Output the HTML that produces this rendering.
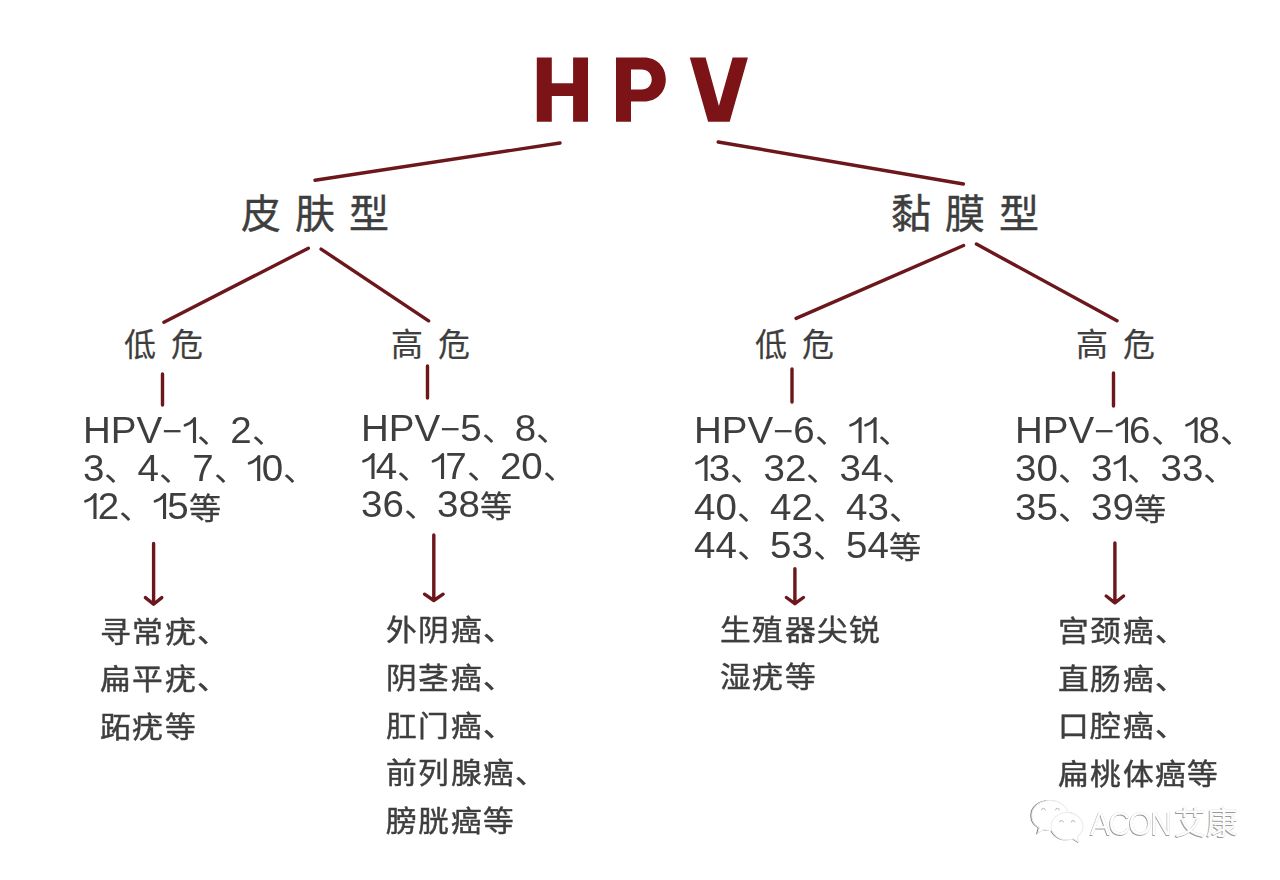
<!DOCTYPE html>
<html lang="zh-CN">
<head>
<meta charset="utf-8">
<style>
html,body{margin:0;padding:0;background:#fff;}
body{width:1280px;height:880px;position:relative;overflow:hidden;font-family:"Liberation Sans",sans-serif;color:#3e3e3e;}
.a{position:absolute;white-space:nowrap;}
.t{font-size:93px;font-weight:bold;color:#7a1518;line-height:100px;}
.c{font-size:31px;line-height:0;}
.m{font-size:32px;line-height:0;position:relative;top:-1px;}
.d{font-size:30px;line-height:0;-webkit-text-stroke:0.3px #3e3e3e;}
.o{font-size:0;line-height:0;color:transparent;}
.one{position:static;display:inline;vertical-align:baseline;overflow:visible;fill:none;stroke:#3e3e3e;}
.h2{font-size:40px;letter-spacing:14px;line-height:50px;-webkit-text-stroke:0.4px #3e3e3e;}
.h3{font-size:32px;letter-spacing:14.5px;line-height:40px;-webkit-text-stroke:0.2px #3e3e3e;}
.num{font-size:36px;line-height:38.4px;transform:scaleX(1.07);transform-origin:0 0;}
.dis{font-size:29px;letter-spacing:1.5px;line-height:47.7px;-webkit-text-stroke:0.45px #3e3e3e;transform:scaleX(1.06);transform-origin:0 0;}
svg{position:absolute;left:0;top:0;}
</style>
</head>
<body>
<svg width="1280" height="880" viewBox="0 0 1280 880">
<g fill="#7c1417">
<path d="M536.8,57.6H551.8V83.2H573.1V57.6H588V121.8H573.1V95.9H551.8V121.8H536.8Z"/>
<path fill-rule="evenodd" d="M616,57.5H644C656.5,57.5 665.8,66.5 665.8,79.4C665.8,92.3 656.5,101.4 644,101.4H631V121.8H616ZM631,69.5H641.5C647.5,69.5 651.7,73.5 651.7,79.5C651.7,85.5 647.5,89.5 641.5,89.5H631Z"/>
<path d="M689.8,57.5H705.6L718.9,106.1L732.6,57.5H747.9L729.7,121.8H708.1Z"/>
</g>
<g stroke="#6b171b" stroke-width="3.4" stroke-linecap="round" stroke-linejoin="round" fill="none">
<line x1="315" y1="180.2" x2="560" y2="143"/>
<line x1="718.2" y1="142" x2="963.4" y2="184"/>
<line x1="163.9" y1="322.2" x2="308.4" y2="248.2"/>
<line x1="321.1" y1="249.1" x2="428.6" y2="320.8"/>
<line x1="796.1" y1="318.4" x2="963.6" y2="245.5"/>
<line x1="976.4" y1="244.1" x2="1117" y2="320.7"/>
<line x1="162.5" y1="374" x2="162.5" y2="405"/>
<line x1="427.5" y1="366" x2="427.5" y2="398"/>
<line x1="792" y1="369" x2="792" y2="402"/>
<line x1="1113.5" y1="373" x2="1113.5" y2="406"/>
<path d="M153.6,543.5V604.2M145.4,597.6L153.6,604.2L161.8,597.6"/>
<path d="M433.8,535V600.5M424.5,594.2L433.8,600.5L443.1,594.2"/>
<path d="M794.9,568.8V603.7M786.4,597.5L794.9,603.7L803.4,597.5"/>
<path d="M1114.9,543V602.8M1106.2,596L1114.9,602.8L1123.6,596"/>
</g>
</svg>
<div id="pifu" class="a h2" style="left:240.8px;top:188.5px;">皮肤型</div>
<div id="nianmo" class="a h2" style="left:890.5px;top:189px;">黏膜型</div>
<div id="dw1" class="a h3" style="left:124px;top:325.3px;">低危</div>
<div id="gw1" class="a h3" style="left:391.2px;top:325.3px;">高危</div>
<div id="dw2" class="a h3" style="left:755.1px;top:325.3px;">低危</div>
<div id="gw2" class="a h3" style="left:1076.3px;top:325.3px;">高危</div>

<div id="n1" class="a num" style="left:83.4px;top:411.6px;">HPV<span class="m">−</span><span class="o">1</span><svg class="one" width="13.9" height="26" viewBox="0 0 13.9 26"><path d="M11.2,0.8V26" stroke-width="2.9"/><path d="M11.4,1.4C9.1,4.6 6.1,6.9 2.3,8.3" stroke-width="2.6" stroke-linecap="round"/></svg><span class="c">、</span>2<span class="c">、</span><br>3<span class="c">、</span>4<span class="c">、</span>7<span class="c">、</span><span class="o">1</span><svg class="one" width="13.9" height="26" viewBox="0 0 13.9 26"><path d="M11.2,0.8V26" stroke-width="2.9"/><path d="M11.4,1.4C9.1,4.6 6.1,6.9 2.3,8.3" stroke-width="2.6" stroke-linecap="round"/></svg>0<span class="c">、</span><br><span class="o">1</span><svg class="one" width="13.9" height="26" viewBox="0 0 13.9 26"><path d="M11.2,0.8V26" stroke-width="2.9"/><path d="M11.4,1.4C9.1,4.6 6.1,6.9 2.3,8.3" stroke-width="2.6" stroke-linecap="round"/></svg>2<span class="c">、</span><span class="o">1</span><svg class="one" width="13.9" height="26" viewBox="0 0 13.9 26"><path d="M11.2,0.8V26" stroke-width="2.9"/><path d="M11.4,1.4C9.1,4.6 6.1,6.9 2.3,8.3" stroke-width="2.6" stroke-linecap="round"/></svg>5<span class="d">等</span></div>
<div id="n2" class="a num" style="left:361.3px;top:409.6px;">HPV<span class="m">−</span>5<span class="c">、</span>8<span class="c">、</span><br><span class="o">1</span><svg class="one" width="13.9" height="26" viewBox="0 0 13.9 26"><path d="M11.2,0.8V26" stroke-width="2.9"/><path d="M11.4,1.4C9.1,4.6 6.1,6.9 2.3,8.3" stroke-width="2.6" stroke-linecap="round"/></svg>4<span class="c">、</span><span class="o">1</span><svg class="one" width="13.9" height="26" viewBox="0 0 13.9 26"><path d="M11.2,0.8V26" stroke-width="2.9"/><path d="M11.4,1.4C9.1,4.6 6.1,6.9 2.3,8.3" stroke-width="2.6" stroke-linecap="round"/></svg>7<span class="c">、</span>20<span class="c">、</span><br>36<span class="c">、</span>38<span class="d">等</span></div>
<div id="n3" class="a num" style="left:693.5px;top:412px;">HPV<span class="m">−</span>6<span class="c">、</span><span class="o">1</span><svg class="one" width="13.9" height="26" viewBox="0 0 13.9 26"><path d="M11.2,0.8V26" stroke-width="2.9"/><path d="M11.4,1.4C9.1,4.6 6.1,6.9 2.3,8.3" stroke-width="2.6" stroke-linecap="round"/></svg><span class="o">1</span><svg class="one" width="13.9" height="26" viewBox="0 0 13.9 26"><path d="M11.2,0.8V26" stroke-width="2.9"/><path d="M11.4,1.4C9.1,4.6 6.1,6.9 2.3,8.3" stroke-width="2.6" stroke-linecap="round"/></svg><span class="c">、</span><br><span class="o">1</span><svg class="one" width="13.9" height="26" viewBox="0 0 13.9 26"><path d="M11.2,0.8V26" stroke-width="2.9"/><path d="M11.4,1.4C9.1,4.6 6.1,6.9 2.3,8.3" stroke-width="2.6" stroke-linecap="round"/></svg>3<span class="c">、</span>32<span class="c">、</span>34<span class="c">、</span><br>40<span class="c">、</span>42<span class="c">、</span>43<span class="c">、</span><br>44<span class="c">、</span>53<span class="c">、</span>54<span class="d">等</span></div>
<div id="n4" class="a num" style="left:1014.5px;top:412px;">HPV<span class="m">−</span><span class="o">1</span><svg class="one" width="13.9" height="26" viewBox="0 0 13.9 26"><path d="M11.2,0.8V26" stroke-width="2.9"/><path d="M11.4,1.4C9.1,4.6 6.1,6.9 2.3,8.3" stroke-width="2.6" stroke-linecap="round"/></svg>6<span class="c">、</span><span class="o">1</span><svg class="one" width="13.9" height="26" viewBox="0 0 13.9 26"><path d="M11.2,0.8V26" stroke-width="2.9"/><path d="M11.4,1.4C9.1,4.6 6.1,6.9 2.3,8.3" stroke-width="2.6" stroke-linecap="round"/></svg>8<span class="c">、</span><br>30<span class="c">、</span>3<span class="o">1</span><svg class="one" width="13.9" height="26" viewBox="0 0 13.9 26"><path d="M11.2,0.8V26" stroke-width="2.9"/><path d="M11.4,1.4C9.1,4.6 6.1,6.9 2.3,8.3" stroke-width="2.6" stroke-linecap="round"/></svg><span class="c">、</span>33<span class="c">、</span><br>35<span class="c">、</span>39<span class="d">等</span></div>

<div id="d1" class="a dis" style="left:99.6px;top:609.5px;">寻常疣、<br>扁平疣、<br>跖疣等</div>
<div id="d2" class="a dis" style="left:385.6px;top:608.2px;">外阴癌、<br>阴茎癌、<br>肛门癌、<br>前列腺癌、<br>膀胱癌等</div>
<div id="d3" class="a dis" style="left:720px;top:607.5px;">生殖器尖锐<br>湿疣等</div>
<div id="d4" class="a dis" style="left:1057.6px;top:609px;">宫颈癌、<br>直肠癌、<br>口腔癌、<br>扁桃体癌等</div>
<svg width="1280" height="880" viewBox="0 0 1280 880" style="position:absolute;left:0;top:0">
<g fill="#fff" stroke="#ececec" stroke-width="1.1" style="filter:drop-shadow(-0.9px 0.9px 0.4px rgba(0,0,0,0.5))">
<path d="M1050,800.5C1060.5,800.5 1068.5,807.5 1068.5,816C1068.5,824 1060.5,830.5 1050,830.5C1047.5,830.5 1045.5,830 1043.5,829.5L1037.8,833.5L1039.3,827.5C1034.3,825 1031.8,820.5 1031.8,815.5C1031.8,807.5 1039.5,800.5 1050,800.5Z"/>
<path d="M1067,812.5C1076,812.5 1083,819 1083,826.5C1083,830.5 1081,834 1077.5,836.5L1078.3,842L1073.5,838.8C1071.5,839.5 1069.3,839.8 1067,839.8C1058,839.8 1051.2,833.5 1051.2,826.2C1051.2,819 1058,812.5 1067,812.5Z"/>
</g>
<g fill="none" stroke="#b8b8b8" stroke-width="1">
<path d="M1041.5,810.3A1.9,1.9 0 0 1 1045.3,810.3"/><path d="M1055.5,810.3A1.9,1.9 0 0 1 1059.3,810.3"/>
<path d="M1059.7,822.3A1.8,1.8 0 0 1 1063.3,822.3"/><path d="M1071.3,822.3A1.8,1.8 0 0 1 1074.9,822.3"/>
</g>
</svg>
<div id="wm" class="a" style="left:1090px;top:804px;font-size:33px;line-height:40px;color:#fdfdfd;text-shadow:-0.7px 0.7px 0.5px #9a9a9a, 0 0 0.6px #bdbdbd;"><span style="letter-spacing:-2px;display:inline-block;transform:scaleX(0.92);transform-origin:left;">ACON</span></div>
<div id="wm2" class="a" style="left:1174px;top:803px;font-size:32px;line-height:40px;color:#fdfdfd;text-shadow:-0.7px 0.7px 0.5px #9a9a9a, 0 0 0.6px #bdbdbd;">艾康</div>
</body>
</html>
